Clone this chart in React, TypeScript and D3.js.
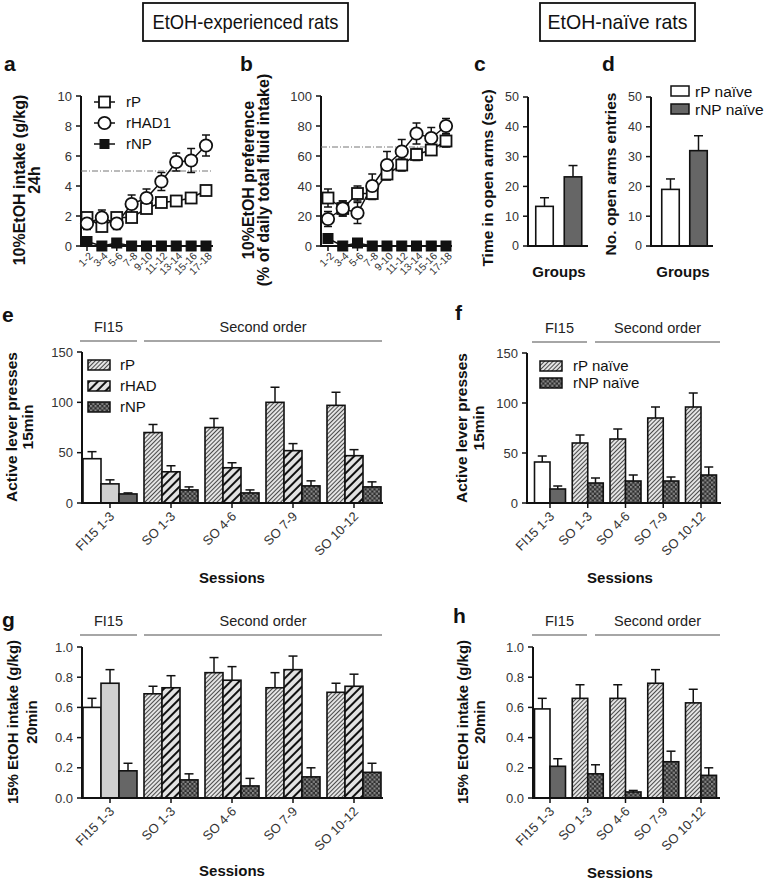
import React from "react";
import * as d3 from "d3";

// ---------------- Data ----------------
const sessionBlocks = ["1-2", "3-4", "5-6", "7-8", "9-10", "11-12", "13-14", "15-16", "17-18"];
const intakeRP = [1.9, 1.3, 1.9, 1.9, 2.5, 2.9, 3.0, 3.2, 3.7];
const intakeRPErr = [0.3, 0.3, 0.3, 0.3, 0.3, 0.3, 0.3, 0.3, 0.3];
const intakeRHAD1 = [1.5, 1.9, 1.5, 2.8, 3.2, 4.3, 5.6, 5.7, 6.7];
const intakeRHAD1Err = [0.4, 0.5, 0.4, 0.6, 0.6, 0.6, 0.6, 0.8, 0.7];
const intakeRNP = [0.3, 0, 0.2, 0, 0, 0, 0, 0, 0];
const intakeThreshold = 5;

const prefRP = [32, 25, 35, 35, 48, 54, 61, 64, 70];
const prefRPErr = [6, 5, 5, 4, 4, 4, 4, 3, 4];
const prefRHAD1 = [18, 25, 22, 40, 54, 63, 75, 72, 80];
const prefRHAD1Err = [5, 5, 7, 8, 9, 8, 7, 7, 5];
const prefRNP = [5, 0, 2, 0, 0, 0, 0, 0, 0];
const prefThreshold = 66;

const naiveGroups = ["rP naïve", "rNP naïve"];
const timeOpenArms = [13.3, 23.2];
const timeOpenArmsErr = [2.9, 3.8];
const openArmEntries = [19, 32];
const openArmEntriesErr = [3.5, 5];

const sessionsSO = ["FI15 1-3", "SO 1-3", "SO 4-6", "SO 7-9", "SO 10-12"];
const leverRP = [44, 70, 75, 100, 97];
const leverRPErr = [7, 8, 9, 15, 13];
const leverRHAD = [19, 31, 35, 52, 47];
const leverRHADErr = [4, 6, 5, 7, 6];
const leverRNP = [9, 13, 10, 17, 16];
const leverRNPErr = [1, 3, 3, 5, 5];

const naiveLeverRP = [41, 60, 64, 85, 96];
const naiveLeverRPErr = [6, 8, 10, 11, 14];
const naiveLeverRNP = [14, 20, 22, 22, 28];
const naiveLeverRNPErr = [3, 5, 6, 4, 8];

const soIntakeRP = [0.6, 0.69, 0.83, 0.73, 0.7];
const soIntakeRPErr = [0.06, 0.05, 0.1, 0.1, 0.06];
const soIntakeRHAD = [0.76, 0.73, 0.78, 0.85, 0.74];
const soIntakeRHADErr = [0.09, 0.08, 0.09, 0.09, 0.08];
const soIntakeRNP = [0.18, 0.12, 0.08, 0.14, 0.17];
const soIntakeRNPErr = [0.05, 0.04, 0.05, 0.06, 0.06];

const naiveIntakeRP = [0.59, 0.66, 0.66, 0.76, 0.63];
const naiveIntakeRPErr = [0.07, 0.09, 0.09, 0.09, 0.09];
const naiveIntakeRNP = [0.21, 0.16, 0.04, 0.24, 0.15];
const naiveIntakeRNPErr = [0.05, 0.06, 0.01, 0.07, 0.05];

// ---------------- Styles ----------------
const FONT = "'Liberation Sans', Arial, Helvetica, sans-serif";
const NARROW = "'Liberation Sans Narrow', 'Arial Narrow', 'Liberation Sans', Arial, sans-serif";
const INK = "#111";

function YAxis({ y, x, ticks, fmt, fs }: any) {
  return (
    <g>
      <line x1={x} x2={x} y1={y(ticks[0]) + 1} y2={y(ticks[ticks.length - 1])} stroke={INK} strokeWidth={2} />
      {ticks.map((t: number) => (
        <g key={t}>
          <line x1={x - 5} x2={x} y1={y(t)} y2={y(t)} stroke={INK} strokeWidth={1.5} />
          <text x={x - 9} y={y(t)} dy="0.35em" textAnchor="end" fontSize={fs} fill="#333">
            {fmt(t)}
          </text>
        </g>
      ))}
    </g>
  );
}

function YTitle({ lines, xs, cy, fs }: any) {
  return (
    <g>
      {lines.map((l: string, i: number) => (
        <text
          key={i}
          transform={`translate(${xs[i]},${cy}) rotate(-90)`}
          dy="0.35em"
          textAnchor="middle"
          fontWeight="bold"
          fontSize={fs}
          fill={INK}
        >
          {l}
        </text>
      ))}
    </g>
  );
}

function PanelLabel({ t, x, y }: any) {
  return (
    <text x={x} y={y} fontWeight="bold" fontSize={21} fill={INK}>
      {t}
    </text>
  );
}

// ---------------- Line panels (a, b) ----------------
function LinePanel({ cfg }: any) {
  const x = d3.scalePoint<string>().domain(sessionBlocks).range(cfg.xRange);
  const y = d3.scaleLinear().domain(cfg.yDomain).range(cfg.yRange);
  const ticks = y.ticks(5);
  const y0 = y(0);
  const line = d3
    .line<number>()
    .x((_, i) => x(sessionBlocks[i]) as number)
    .y((d) => y(d));
  const sq = 11;
  const errBars = (vals: number[], errs: number[]) =>
    vals.map((v, i) => {
      const cx = x(sessionBlocks[i]) as number;
      return (
        <g key={i} stroke={INK} strokeWidth={1.5}>
          <line x1={cx} x2={cx} y1={y(v - errs[i])} y2={y(v + errs[i])} />
          <line x1={cx - 4} x2={cx + 4} y1={y(v + errs[i])} y2={y(v + errs[i])} />
          <line x1={cx - 4} x2={cx + 4} y1={y(v - errs[i])} y2={y(v - errs[i])} />
        </g>
      );
    });
  return (
    <g fontFamily={FONT}>
      <YAxis y={y} x={cfg.axisX[0]} ticks={ticks} fmt={(t: number) => String(t)} fs={13} />
      <line x1={cfg.axisX[0] - 1} x2={cfg.axisX[1]} y1={y0} y2={y0} stroke={INK} strokeWidth={2} />
      {sessionBlocks.map((s) => (
        <g key={s}>
          <line x1={x(s)} x2={x(s)} y1={y0} y2={y0 + 5} stroke={INK} strokeWidth={1.5} />
          <text
            transform={`translate(${(x(s) as number) + 4},${y0 + 8}) rotate(-45)`}
            textAnchor="end"
            dy="0.35em"
            fontSize={10.5}
            fill="#333"
          >
            {s}
          </text>
        </g>
      ))}
      <line
        x1={cfg.axisX[0]}
        x2={cfg.axisX[1]}
        y1={y(cfg.threshold)}
        y2={y(cfg.threshold)}
        stroke="#777"
        strokeWidth={1}
        strokeDasharray="6 2 1 2"
      />
      {errBars(cfg.rp, cfg.rpErr)}
      {errBars(cfg.rhad, cfg.rhadErr)}
      <path d={line(cfg.rp) as string} fill="none" stroke={INK} strokeWidth={1.5} />
      <path d={line(cfg.rhad) as string} fill="none" stroke={INK} strokeWidth={1.5} />
      <path d={line(cfg.rnp) as string} fill="none" stroke={INK} strokeWidth={1.5} />
      {cfg.rp.map((v: number, i: number) => (
        <rect
          key={"p" + i}
          x={(x(sessionBlocks[i]) as number) - sq / 2}
          y={y(v) - sq / 2}
          width={sq}
          height={sq}
          fill="#fff"
          stroke={INK}
          strokeWidth={1.8}
        />
      ))}
      {cfg.rhad.map((v: number, i: number) => (
        <circle key={"h" + i} cx={x(sessionBlocks[i])} cy={y(v)} r={6.2} fill="#fff" stroke={INK} strokeWidth={1.8} />
      ))}
      {cfg.rnp.map((v: number, i: number) => (
        <rect
          key={"n" + i}
          x={(x(sessionBlocks[i]) as number) - 5}
          y={y(v) - 5}
          width={10}
          height={10}
          fill={INK}
          stroke={INK}
          strokeWidth={1}
        />
      ))}
    </g>
  );
}

function LineLegend() {
  const rows = [
    { label: "rP", kind: "sq" },
    { label: "rHAD1", kind: "ci" },
    { label: "rNP", kind: "fsq" },
  ];
  const yPos = d3.scalePoint<string>().domain(rows.map((r) => r.label)).range([102, 144]);
  return (
    <g fontFamily={FONT}>
      {rows.map((r) => {
        const cy = yPos(r.label) as number;
        return (
          <g key={r.label}>
            <line x1={94} x2={115} y1={cy} y2={cy} stroke={INK} strokeWidth={1.5} />
            {r.kind === "sq" && <rect x={99} y={cy - 5.5} width={11} height={11} fill="#fff" stroke={INK} strokeWidth={1.8} />}
            {r.kind === "ci" && <circle cx={104.5} cy={cy} r={6.2} fill="#fff" stroke={INK} strokeWidth={1.8} />}
            {r.kind === "fsq" && <rect x={99.5} y={cy - 5} width={10} height={10} fill={INK} />}
            <text x={126} y={cy} dy="0.36em" fontSize={15} fill={INK}>
              {r.label}
            </text>
          </g>
        );
      })}
    </g>
  );
}

// ---------------- Simple bar panels (c, d) ----------------
function SimpleBars({ cfg }: any) {
  const x = d3.scalePoint<string>().domain(naiveGroups).range(cfg.centers);
  const y = d3.scaleLinear().domain([0, 50]).range(cfg.yRange);
  const fills = ["#fff", "#666"];
  const w = 17.5;
  return (
    <g fontFamily={FONT}>
      {cfg.values.map((v: number, i: number) => {
        const cx = x(naiveGroups[i]) as number;
        const top = y(v + cfg.errs[i]);
        return (
          <g key={i}>
            <line x1={cx} x2={cx} y1={y(v)} y2={top} stroke={INK} strokeWidth={1.5} />
            <line x1={cx - 4.5} x2={cx + 4.5} y1={top} y2={top} stroke={INK} strokeWidth={1.5} />
            <rect x={cx - w / 2} y={y(v)} width={w} height={y(0) - y(v)} fill={fills[i]} stroke={INK} strokeWidth={1.6} />
          </g>
        );
      })}
      <YAxis y={y} x={cfg.axisX[0]} ticks={y.ticks(5)} fmt={(t: number) => String(t)} fs={12.5} />
      <line x1={cfg.axisX[0] - 1} x2={cfg.axisX[1]} y1={y(0)} y2={y(0)} stroke={INK} strokeWidth={2} />
      <text x={(cfg.axisX[0] + cfg.axisX[1]) / 2 + 1} y={y(0) + 31} textAnchor="middle" fontWeight="bold" fontSize={15} fill={INK}>
        Groups
      </text>
    </g>
  );
}

// ---------------- Grouped bar panels (e-h) ----------------
function GroupedBars({ cfg }: any) {
  const x = d3.scalePoint<string>().domain(sessionsSO).range(cfg.xRange);
  const y = d3.scaleLinear().domain(cfg.yDomain).range(cfg.yRange);
  const n = cfg.series.length;
  const w = cfg.barW;
  const y0 = y(0);
  return (
    <g fontFamily={FONT}>
      {sessionsSO.map((s, gi) => {
        const gx = x(s) as number;
        return (
          <g key={s}>
            {cfg.series.map((ser: any, si: number) => {
              const bx = gx - (n * w) / 2 + si * w;
              const v = ser.values[gi];
              const top = y(v + ser.errs[gi]);
              const cx = bx + w / 2;
              return (
                <g key={si}>
                  <line x1={cx} x2={cx} y1={y(v)} y2={top} stroke={INK} strokeWidth={1.5} />
                  <line x1={cx - 4.5} x2={cx + 4.5} y1={top} y2={top} stroke={INK} strokeWidth={1.5} />
                  <rect x={bx} y={y(v)} width={w} height={y0 - y(v)} fill={gi === 0 ? ser.fill0 : ser.fill} stroke={INK} strokeWidth={1.6} />
                </g>
              );
            })}
          </g>
        );
      })}
      <YAxis y={y} x={cfg.axisX[0]} ticks={y.ticks(cfg.nTicks)} fmt={cfg.fmt} fs={13} />
      <line x1={cfg.axisX[0] - 1} x2={cfg.axisX[1]} y1={y0} y2={y0} stroke={INK} strokeWidth={2} />
      {sessionsSO.map((s) => (
        <g key={s}>
          <line x1={x(s)} x2={x(s)} y1={y0} y2={y0 + 5} stroke={INK} strokeWidth={1.5} />
          <text
            transform={`translate(${(x(s) as number) + 2},${y0 + 11}) rotate(-45)`}
            textAnchor="end"
            dy="0.35em"
            fontSize={13}
            fill="#333"
          >
            {s}
          </text>
        </g>
      ))}
      {/* phase brackets */}
      {cfg.brackets.map((b: any) => (
        <g key={b.label}>
          <line x1={b.x0} x2={b.x1} y1={cfg.bracketY} y2={cfg.bracketY} stroke="#888" strokeWidth={1.5} />
          <text x={(b.x0 + b.x1) / 2} y={cfg.bracketY - 9} textAnchor="middle" fontSize={14.5} fill="#222">
            {b.label}
          </text>
        </g>
      ))}
      <text x={cfg.sessionsX} y={cfg.sessionsY} textAnchor="middle" fontWeight="bold" fontSize={15} fill={INK}>
        Sessions
      </text>
    </g>
  );
}

function BoxLegend({ items, x, y0, dy, w, h, fs, textX }: any) {
  return (
    <g fontFamily={FONT}>
      {items.map((it: any, i: number) => (
        <g key={it.label}>
          <rect x={x} y={y0 + i * dy} width={w} height={h} fill={it.fill} stroke={INK} strokeWidth={1.5} />
          <text x={textX} y={y0 + i * dy + h / 2} dy="0.36em" fontSize={fs} fill={INK}>
            {it.label}
          </text>
        </g>
      ))}
    </g>
  );
}

export default function App() {
  const fmtInt = (t: number) => String(t);
  const fmt1 = (t: number) => t.toFixed(1);
  const eBrackets = [
    { label: "FI15", x0: 80, x1: 137 },
    { label: "Second order", x0: 144, x1: 382 },
  ];
  const fBrackets = [
    { label: "FI15", x0: 532, x1: 587 },
    { label: "Second order", x0: 595, x1: 720 },
  ];
  return (
    <div style={{ position: "absolute", left: 0, top: 0, width: 765, height: 881, background: "#fff" }}>
      <svg width={765} height={881} style={{ display: "block" }} fontFamily={FONT}>
        <defs>
          <pattern id="hatchFine" patternUnits="userSpaceOnUse" width={3} height={3} patternTransform="rotate(45)">
            <rect width={3} height={3} fill="#e4e4e4" />
            <line x1={1.5} x2={1.5} y1={0} y2={3} stroke="#3a3a3a" strokeWidth={0.9} />
          </pattern>
          <pattern id="hatchBold" patternUnits="userSpaceOnUse" width={6} height={6} patternTransform="rotate(45)">
            <rect width={6} height={6} fill="#e2e2e2" />
            <line x1={3} x2={3} y1={0} y2={6} stroke="#111" strokeWidth={2} />
          </pattern>
          <pattern id="checker" patternUnits="userSpaceOnUse" width={4.5} height={4.5}>
            <rect width={4.5} height={4.5} fill="#2e2e2e" />
            <rect x={0} y={0} width={2.1} height={2.1} fill="#8a8a8a" />
            <rect x={2.25} y={2.25} width={2.1} height={2.1} fill="#8a8a8a" />
          </pattern>
        </defs>

        {/* Header boxes */}
        <rect x={143} y={3} width={205} height={38} fill="#fff" stroke={INK} strokeWidth={1.8} />
        <text x={245.5} y={29} textAnchor="middle" fontFamily={NARROW} fontSize={21} textLength={186} lengthAdjust="spacingAndGlyphs" fill={INK}>
          EtOH-experienced rats
        </text>
        <rect x={540} y={3} width={155} height={38} fill="#fff" stroke={INK} strokeWidth={1.8} />
        <text x={617.5} y={29} textAnchor="middle" fontFamily={NARROW} fontSize={21} textLength={140} lengthAdjust="spacingAndGlyphs" fill={INK}>
          EtOH-naïve rats
        </text>

        {/* Panel labels */}
        <PanelLabel t="a" x={4} y={71} />
        <PanelLabel t="b" x={240} y={71} />
        <PanelLabel t="c" x={474} y={71} />
        <PanelLabel t="d" x={602} y={71} />
        <PanelLabel t="e" x={2} y={322} />
        <PanelLabel t="f" x={455} y={320} />
        <PanelLabel t="g" x={2} y={627} />
        <PanelLabel t="h" x={453} y={623} />

        {/* a */}
        <LinePanel
          cfg={{
            xRange: [87, 206],
            axisX: [81, 213],
            yDomain: [0, 10],
            yRange: [246, 96],
            threshold: intakeThreshold,
            rp: intakeRP,
            rpErr: intakeRPErr,
            rhad: intakeRHAD1,
            rhadErr: intakeRHAD1Err,
            rnp: intakeRNP,
          }}
        />
        <LineLegend />
        <YTitle lines={["10%EtOH intake (g/kg)", "24h"]} xs={[19, 34]} cy={180} fs={16} />

        {/* b */}
        <LinePanel
          cfg={{
            xRange: [328, 446],
            axisX: [321, 452],
            yDomain: [0, 100],
            yRange: [246, 96],
            threshold: prefThreshold,
            rp: prefRP,
            rpErr: prefRPErr,
            rhad: prefRHAD1,
            rhadErr: prefRHAD1Err,
            rnp: prefRNP,
          }}
        />
        <YTitle lines={["10%EtOH preference", "(% of daily total fluid intake)"]} xs={[248, 263]} cy={180} fs={16} />

        {/* c */}
        <SimpleBars cfg={{ centers: [544.5, 573], axisX: [528, 588], yRange: [246, 97], values: timeOpenArms, errs: timeOpenArmsErr }} />
        <YTitle lines={["Time in open arms (sec)"]} xs={[488]} cy={178} fs={15.5} />

        {/* d */}
        <SimpleBars cfg={{ centers: [670.5, 698.5], axisX: [651, 713], yRange: [246, 97], values: openArmEntries, errs: openArmEntriesErr }} />
        <YTitle lines={["No. open arms entries"]} xs={[611]} cy={174} fs={15.5} />
        <BoxLegend
          items={[
            { label: naiveGroups[0], fill: "#fff" },
            { label: naiveGroups[1], fill: "#666" },
          ]}
          x={671}
          y0={86}
          dy={18}
          w={18}
          h={10}
          fs={15.5}
          textX={695}
        />

        {/* e */}
        <GroupedBars
          cfg={{
            xRange: [110, 354],
            axisX: [82, 383],
            yDomain: [0, 150],
            yRange: [503, 352],
            nTicks: 3,
            fmt: fmtInt,
            barW: 18,
            series: [
              { values: leverRP, errs: leverRPErr, fill0: "#fff", fill: "url(#hatchFine)" },
              { values: leverRHAD, errs: leverRHADErr, fill0: "#d0d0d0", fill: "url(#hatchBold)" },
              { values: leverRNP, errs: leverRNPErr, fill0: "#666", fill: "url(#checker)" },
            ],
            brackets: eBrackets,
            bracketY: 341,
            sessionsX: 232,
            sessionsY: 583,
          }}
        />
        <YTitle lines={["Active lever presses", "15min"]} xs={[12, 28]} cy={427} fs={15.5} />
        <BoxLegend
          items={[
            { label: "rP", fill: "url(#hatchFine)" },
            { label: "rHAD", fill: "url(#hatchBold)" },
            { label: "rNP", fill: "url(#checker)" },
          ]}
          x={88}
          y0={360}
          dy={21}
          w={22}
          h={10}
          fs={15}
          textX={120}
        />

        {/* f */}
        <GroupedBars
          cfg={{
            xRange: [550, 701],
            axisX: [527, 721],
            yDomain: [0, 150],
            yRange: [503, 353],
            nTicks: 3,
            fmt: fmtInt,
            barW: 15.5,
            series: [
              { values: naiveLeverRP, errs: naiveLeverRPErr, fill0: "#fff", fill: "url(#hatchFine)" },
              { values: naiveLeverRNP, errs: naiveLeverRNPErr, fill0: "#666", fill: "url(#checker)" },
            ],
            brackets: fBrackets,
            bracketY: 342,
            sessionsX: 620,
            sessionsY: 583,
          }}
        />
        <YTitle lines={["Active lever presses", "15min"]} xs={[462, 479]} cy={428} fs={15.5} />
        <BoxLegend
          items={[
            { label: "rP naïve", fill: "url(#hatchFine)" },
            { label: "rNP naïve", fill: "url(#checker)" },
          ]}
          x={540}
          y0={361}
          dy={17}
          w={22}
          h={10}
          fs={15}
          textX={573}
        />

        {/* g */}
        <GroupedBars
          cfg={{
            xRange: [110, 354],
            axisX: [82, 383],
            yDomain: [0, 1],
            yRange: [798, 647],
            nTicks: 5,
            fmt: fmt1,
            barW: 18,
            series: [
              { values: soIntakeRP, errs: soIntakeRPErr, fill0: "#fff", fill: "url(#hatchFine)" },
              { values: soIntakeRHAD, errs: soIntakeRHADErr, fill0: "#d0d0d0", fill: "url(#hatchBold)" },
              { values: soIntakeRNP, errs: soIntakeRNPErr, fill0: "#666", fill: "url(#checker)" },
            ],
            brackets: eBrackets,
            bracketY: 635,
            sessionsX: 232,
            sessionsY: 876,
          }}
        />
        <YTitle lines={["15% EtOH intake (g/kg)", "20min"]} xs={[13, 32]} cy={722} fs={15} />

        {/* h */}
        <GroupedBars
          cfg={{
            xRange: [550, 701],
            axisX: [533, 720],
            yDomain: [0, 1],
            yRange: [798, 647],
            nTicks: 5,
            fmt: fmt1,
            barW: 15.5,
            series: [
              { values: naiveIntakeRP, errs: naiveIntakeRPErr, fill0: "#fff", fill: "url(#hatchFine)" },
              { values: naiveIntakeRNP, errs: naiveIntakeRNPErr, fill0: "#666", fill: "url(#checker)" },
            ],
            brackets: fBrackets,
            bracketY: 635,
            sessionsX: 620,
            sessionsY: 878,
          }}
        />
        <YTitle lines={["15% EtOH intake (g/kg)", "20min"]} xs={[463, 480]} cy={722} fs={15} />
      </svg>
    </div>
  );
}
